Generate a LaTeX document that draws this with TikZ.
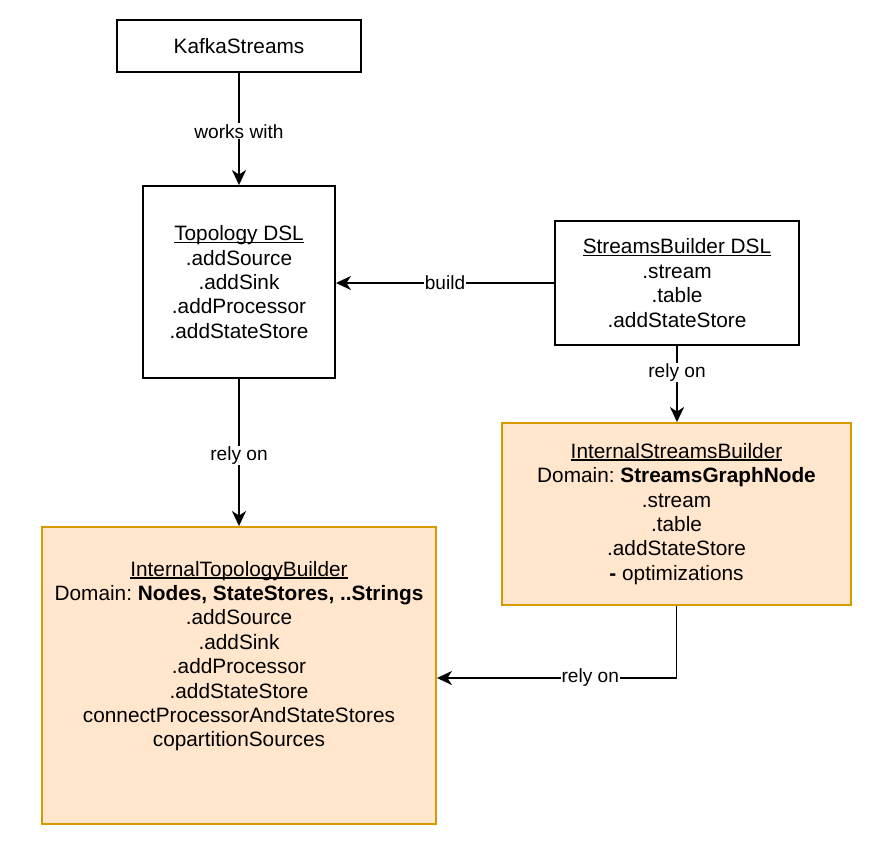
\documentclass[tikz,border=0pt]{standalone}
\usepackage{fontspec}
\setmainfont{Liberation Sans}
\usetikzlibrary{arrows.meta}
\definecolor{ofill}{HTML}{FFE6CC}
\definecolor{oline}{HTML}{D79B00}
\newcommand\myul[1]{\setbox0\hbox{#1}\rlap{\rule[-2.4pt]{\wd0}{1.3pt}}\box0}
\frenchspacing
\begin{document}
\begin{tikzpicture}[x=1pt,y=-1pt,
  box/.style={draw=black, line width=1.9pt, fill=white, inner sep=0pt, align=center, font=\fontsize{20.8}{24.4}\selectfont},
  obox/.style={box, draw=oline, fill=ofill},
  conn/.style={line width=1.9pt, -{Stealth[length=15pt,width=14pt,inset=4.5pt]}},
  lbl/.style={fill=white, inner sep=1pt, font=\fontsize{19.1}{22}\selectfont}]
\useasboundingbox (0,0) rectangle (886,860);
\node[box, minimum width=244pt, minimum height=52pt] (ks) at (239,46) {KafkaStreams};
\node[box, minimum width=192pt, minimum height=192pt] (topo) at (239,282)
  {\myul{Topology DSL}\\.addSource\\.addSink\\.addProcessor\\.addStateStore};
\node[box, minimum width=244pt, minimum height=124pt] (sb) at (677,283)
  {\myul{StreamsBuilder DSL}\\.stream\\.table\\.addStateStore};
\node[obox, minimum width=349pt, minimum height=182pt] (isb) at (676.5,514)
  {\myul{InternalStreamsBuilder}\\Domain: \textbf{StreamsGraphNode}\\.stream\\.table\\.addStateStore\\\textbf{-} optimizations};
\node[obox, minimum width=394pt, minimum height=297pt] (itb) at (239,675.5)
  {\myul{InternalTopologyBuilder}\\Domain: \textbf{Nodes, StateStores, ..Strings}\\.addSource\\.addSink\\.addProcessor\\.addStateStore\\connectProcessorAndStateStores\\copartitionSources\\[18.6pt]\mbox{}};
\draw[conn] (ks.south) -- node[lbl, pos=0.52] {works with} (topo.north);
\draw[conn] (sb.west) -- node[lbl] {build} (sb.west -| topo.east);
\draw[conn] (topo.south) -- node[lbl, pos=0.52] {rely on} (itb.north);
\draw[conn] (sb.south) -- node[lbl, pos=0.35] {rely on} (sb.south |- isb.north);
\draw[conn] (isb.south) |- node[lbl, pos=0.68] {rely on} ([yshift=-2.5pt]itb.east);
\end{tikzpicture}
\end{document}
